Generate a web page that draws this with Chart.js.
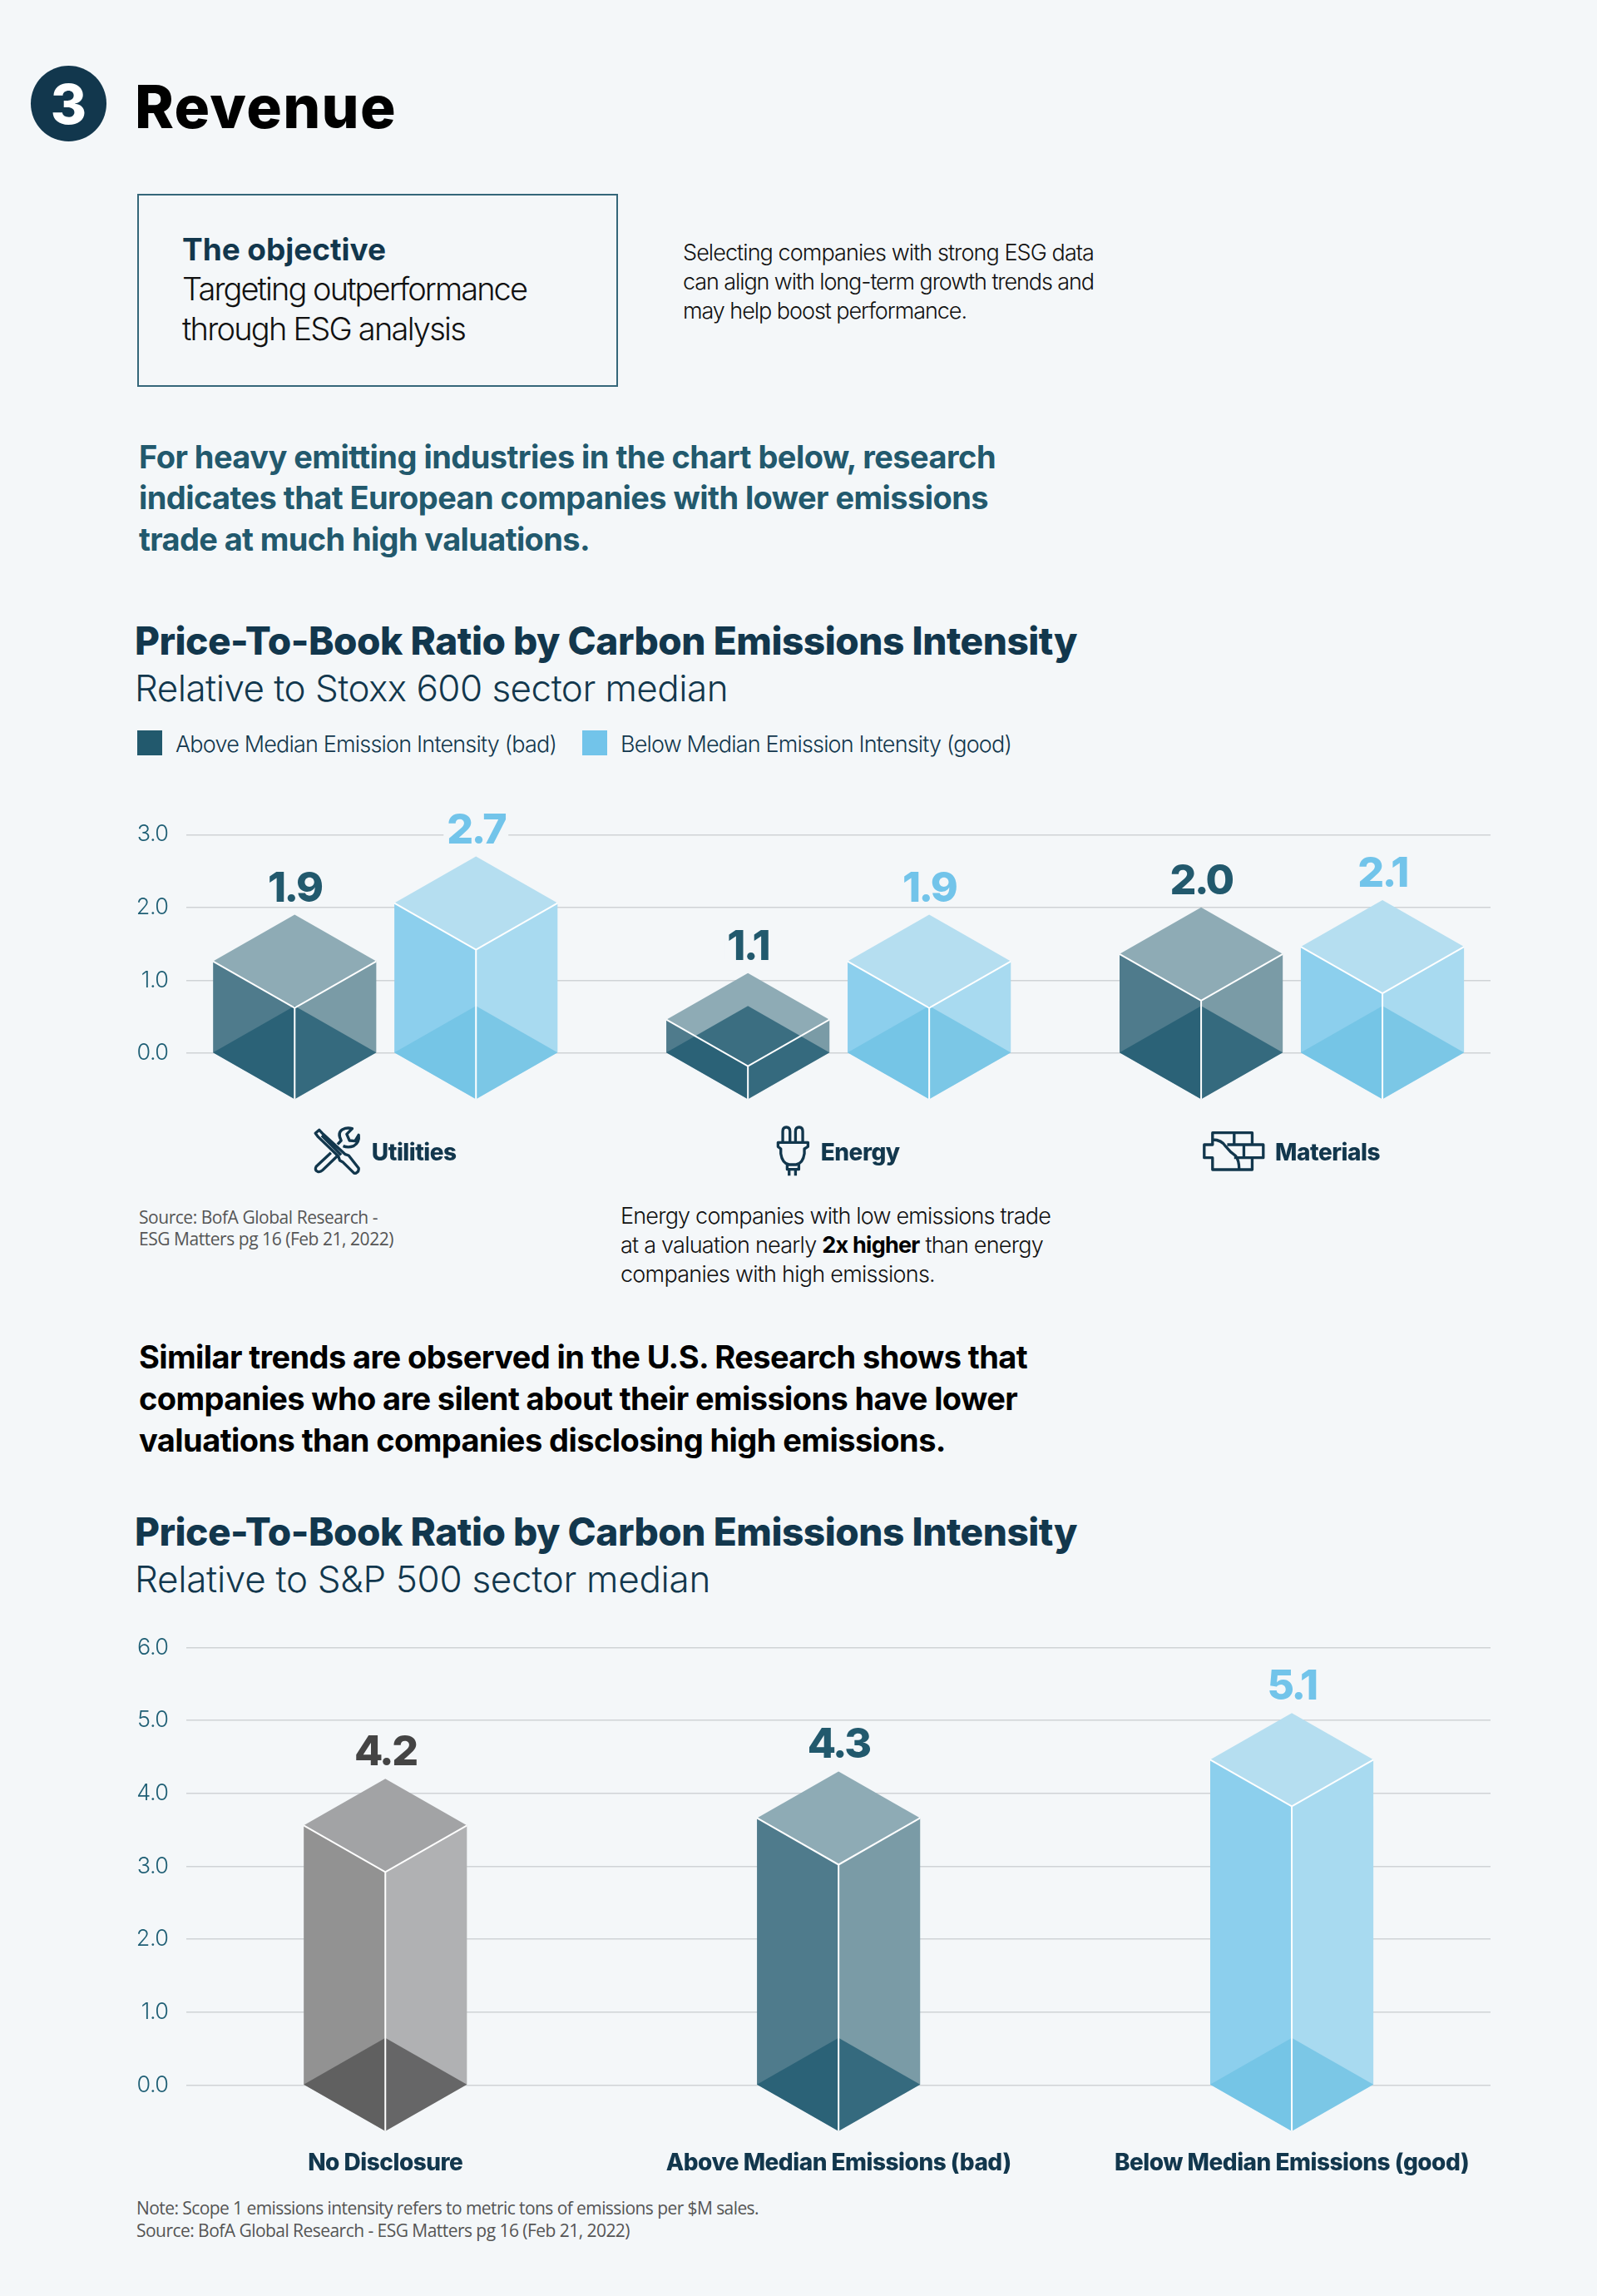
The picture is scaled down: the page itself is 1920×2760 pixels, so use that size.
<!DOCTYPE html>
<html>
<head>
<meta charset="utf-8">
<title>Revenue</title>
<script src="https://cdn.jsdelivr.net/npm/chart.js@4"></script>
<style>
  html, body { margin: 0; background: #f4f7f9; }
  #page { position: relative; width: 1920px; height: 2760px; overflow: hidden; font-family: Inter, sans-serif; }
  #page canvas { position: absolute; left: 0; }
  .t { position: absolute; white-space: nowrap; line-height: 1; }
  .t b { font-weight: 700; color: #000; }
  .circle { position: absolute; left: 37px; top: 79px; width: 91px; height: 91px; border-radius: 50%; background: #12374d; color: #fff;
    display: flex; align-items: center; justify-content: center; font-weight: 800; font-size: 66px; }
  .box { position: absolute; left: 165px; top: 233px; width: 574px; height: 228px; border: 2px solid #35677a; }
  .sq { position: absolute; width: 30px; height: 30px; }
</style>
</head>
<body>
<div id="page">
  <div class="circle">3</div>
  <div class="box"></div>
  <div class="sq" style="left:165px;top:878px;background:#22596d"></div>
  <div class="sq" style="left:700px;top:878px;background:#72c4ea"></div>
  <canvas id="chartEurope" width="1920" height="466" style="top:960px"></canvas>
  <canvas id="chartUS" width="1920" height="697" style="top:1940px"></canvas>
</div>
<script>
// chart 1: Stoxx 600
const euCategories = ["Utilities", "Energy", "Materials"];
const euAbove = [1.9, 1.1, 2.0];
const euBelow = [2.7, 1.9, 2.1];
const euSeriesNames = ["Above Median Emission Intensity (bad)", "Below Median Emission Intensity (good)"];

// chart 2: S&P 500
const usCategories = ["No Disclosure", "Above Median Emissions (bad)", "Below Median Emissions (good)"];
const usValues = [4.2, 4.3, 5.1];

const navy = "#12374d";
const teal = "#22596d";
const pageBg = "#f4f7f9";

const dark = { left: "#4f7b8c", right: "#7a9ba6", top: "#8eabb5", shade: "rgba(31,90,112,0.75)", text: teal };
const light = { left: "#8ccfed", right: "#a8daf0", top: "#b5def0", shade: "rgba(111,194,228,0.8)", text: "#72c4ea" };
const gray = { left: "#929292", right: "#b0b1b3", top: "#a2a3a5", shade: "rgba(84,84,84,0.8)", text: "#444444" };

// the 3 category icons, traced at 3x
const euIcons = [
  { width: 54, gap: 15, top: 79, path: new Path2D("M52 52 L66 40 L80 55 L160 128 L172 132 L208 178 Q210 190 198 196 L192 196 L150 155 L140 150 L135 135 L62 65 Z M75 60 L145 130 M108 122 L55 172 Q48 185 60 190 Q70 193 78 185 L130 135 M132 92 L145 78 Q130 50 150 38 Q165 30 185 35 L165 55 L175 78 L195 80 L208 58 Q212 85 190 98 Q170 105 152 98"), left: 48 },
  { width: 37, gap: 15, top: 79, path: new Path2D("M62 80 L62 45 Q62 30 75 30 Q88 30 88 45 L88 80 M108 80 L108 45 Q108 30 121 30 Q134 30 134 45 L134 80 M45 85 L153 85 L153 100 L140 108 L140 125 Q135 160 110 165 L85 165 Q60 160 55 125 L55 108 L45 100 Z M78 165 L78 182 L120 182 L120 165 M85 182 L85 205 M108 182 L108 205"), left: 43 },
  { width: 72, gap: 14, top: 84, path: new Path2D("M52 35 L195 35 L195 78 L235 78 L235 125 L195 125 L195 168 L52 168 L52 125 L22 125 L22 78 L52 78 Z M130 35 L130 78 M52 60 Q85 60 100 85 Q115 105 135 118 Q148 135 148 168 M105 78 L235 78 M165 78 L165 125 M130 125 L235 125"), left: 20 }
];

const plotLeft = 223.5;
const plotRight = 1792;
const xMin = 0.56;
const xMax = 3.4385;
const pxPerCategory = (plotRight - plotLeft) / (xMax - xMin);

function addText(html, x, baseline, size, width, weight, color, family) {
  const el = document.createElement("div");
  el.className = "t";
  el.innerHTML = html;
  el.style.left = x + "px";
  el.style.top = baseline - size * 0.86 + "px";
  el.style.fontSize = size + "px";
  el.style.fontWeight = weight;
  el.style.color = color;
  if (family) el.style.fontFamily = family;
  document.getElementById("page").appendChild(el);
  // squeeze the line to the width it has in the layout
  const extra = width - el.getBoundingClientRect().width;
  el.style.letterSpacing = extra / el.textContent.length + "px";
}

addText("Revenue", 162, 154, 71, 315, 800, "#000");

addText("The objective", 219, 313, 37, 245, 750, navy);
addText("Targeting outperformance", 219, 361, 38, 414, 300, "#111");
addText("through ESG analysis", 219, 409, 38, 340, 300, "#111");

addText("Selecting companies with strong ESG data", 821, 313, 27, 494, 300, "#111");
addText("can align with long-term growth trends and", 821, 348, 27, 494, 300, "#111");
addText("may help boost performance.", 821, 383, 27, 341, 300, "#111");

addText("For heavy emitting industries in the chart below, research", 167, 563, 38, 1030, 750, teal);
addText("indicates that European companies with lower emissions", 167, 612, 38, 1021, 750, teal);
addText("trade at much high valuations.", 167, 662, 38, 542, 750, teal);

addText("Price-To-Book Ratio by Carbon Emissions Intensity", 162, 787, 46, 1133, 800, navy);
addText("Relative to Stoxx 600 sector median", 162, 843, 44, 713, 300, navy);
addText(euSeriesNames[0], 211, 904, 27, 458, 300, navy);
addText(euSeriesNames[1], 746, 904, 27, 470, 300, navy);

addText("Source: BofA Global Research -", 167, 1471, 21, 287, 400, "#555", "'Open Sans'");
addText("ESG Matters pg 16 (Feb 21, 2022)", 167, 1497, 21, 306, 400, "#555", "'Open Sans'");

addText("Energy companies with low emissions trade", 746, 1471, 27, 517, 300, "#111");
addText("at a valuation nearly <b>2x higher</b> than energy", 746, 1506, 27, 508, 300, "#111");
addText("companies with high emissions.", 746, 1541, 27, 378, 300, "#111");

addText("Similar trends are observed in the U.S. Research shows that", 167, 1645, 38, 1068, 750, "#000");
addText("companies who are silent about their emissions have lower", 167, 1695, 38, 1056, 750, "#000");
addText("valuations than companies disclosing high emissions.", 167, 1745, 38, 970, 750, "#000");

addText("Price-To-Book Ratio by Carbon Emissions Intensity", 162, 1858, 46, 1133, 800, navy);
addText("Relative to S&amp;P 500 sector median", 162, 1914, 44, 692, 300, navy);

addText("Note: Scope 1 emissions intensity refers to metric tons of emissions per $M sales.", 164, 2662, 21, 748, 400, "#555", "'Open Sans'");
addText("Source: BofA Global Research - ESG Matters pg 16 (Feb 21, 2022)", 164, 2689, 21, 593, 400, "#555", "'Open Sans'");

function polygon(ctx, points, fill) {
  ctx.beginPath();
  points.forEach(([x, y], i) => (i ? ctx.lineTo(x, y) : ctx.moveTo(x, y)));
  ctx.closePath();
  ctx.fillStyle = fill;
  ctx.fill();
}

function drawPrism(ctx, bar, rise, colors) {
  const cx = bar.x;
  const hw = bar.width / 2;
  const top = bar.y;
  const base = bar.base;
  const corner = top + rise;
  const front = top + rise * 2;
  const low = base + rise;

  polygon(ctx, [[cx - hw, corner], [cx, front], [cx, low], [cx - hw, base]], colors.left);
  polygon(ctx, [[cx + hw, corner], [cx, front], [cx, low], [cx + hw, base]], colors.right);
  polygon(ctx, [[cx, top], [cx + hw, corner], [cx, front], [cx - hw, corner]], colors.top);
  polygon(ctx, [[cx - hw, base], [cx, base - rise], [cx + hw, base], [cx, low]], colors.shade);

  ctx.strokeStyle = "#ffffff";
  ctx.lineWidth = 2;
  ctx.beginPath();
  ctx.moveTo(cx - hw, corner);
  ctx.lineTo(cx, front);
  ctx.lineTo(cx + hw, corner);
  ctx.moveTo(cx, front);
  ctx.lineTo(cx, low);
  ctx.stroke();
}

function drawValue(ctx, bar, value, color) {
  const text = value.toFixed(1);
  ctx.font = "800 50px Inter";
  ctx.letterSpacing = "-2.5px";
  ctx.textAlign = "center";
  ctx.textBaseline = "alphabetic";
  const w = ctx.measureText(text).width;
  ctx.fillStyle = pageBg;
  ctx.fillRect(bar.x - w / 2 - 4, bar.y - 52, w + 8, 36);
  ctx.fillStyle = color;
  ctx.fillText(text, bar.x, bar.y - 16);
}

// bars are left transparent by the library, the prisms go on the same elements
const prismPlugin = {
  id: "prism",
  beforeDraw(chart) {
    chart.ctx.letterSpacing = "-0.5px";
  },
  afterDatasetsDraw(chart, args, opts) {
    const ctx = chart.ctx;
    chart.data.datasets.forEach((ds, d) => {
      chart.getDatasetMeta(d).data.forEach((bar, i) => {
        const colors = ds.prism[i];
        ctx.save();
        drawPrism(ctx, bar, opts.rise, colors);
        drawValue(ctx, bar, ds.data[i].y, colors.text);
        ctx.restore();
      });
    });
  },
  afterDraw(chart, args, opts) {
    if (!opts.icons) return;
    const ctx = chart.ctx;
    const x = chart.scales.x;
    ctx.save();
    ctx.font = x.options.ticks.font.weight + " " + x.options.ticks.font.size + "px Inter";
    opts.icons.forEach((icon, i) => {
      const textW = ctx.measureText(x.ticks[i].label).width;
      const left = x.getPixelForTick(i) - textW / 2 - icon.gap - icon.width;
      ctx.save();
      ctx.translate(left, chart.chartArea.bottom + icon.top);
      ctx.scale(1 / 3, 1 / 3);
      ctx.translate(-icon.left, 0);
      ctx.strokeStyle = navy;
      ctx.lineWidth = 10;
      ctx.lineJoin = "round";
      ctx.stroke(icon.path);
      ctx.restore();
    });
    ctx.restore();
  }
};

function toPoints(values) {
  return values.map((v, i) => ({ x: i + 1, y: v }));
}

function makeChart(id, datasets, cfg) {
  return new Chart(document.getElementById(id), {
    type: "bar",
    data: { datasets },
    plugins: [prismPlugin],
    options: {
      responsive: false,
      animation: false,
      devicePixelRatio: 1,
      categoryPercentage: cfg.categoryPercentage,
      barPercentage: cfg.barPercentage,
      layout: { padding: { top: cfg.paddingTop, right: 1920 - plotRight, left: 0, bottom: 0 } },
      plugins: {
        legend: { display: false },
        tooltip: { enabled: false },
        prism: { rise: 56, icons: cfg.icons }
      },
      scales: {
        x: {
          type: "linear",
          offset: false,
          min: xMin,
          max: xMax,
          grid: { display: false, offset: false },
          border: { display: false },
          afterBuildTicks: (s) => {
            // tick sits on the middle of icon + label
            s.ticks = cfg.categories.map((c, i) => ({
              value: i + 1 + (cfg.icons ? (cfg.icons[i].width + cfg.icons[i].gap) / 2 / pxPerCategory : 0)
            }));
          },
          afterFit: (s) => { s.height = cfg.axisHeight; },
          ticks: {
            autoSkip: false,
            maxRotation: 0,
            padding: cfg.labelPadding,
            color: navy,
            font: { family: "Inter", weight: "800", size: cfg.labelSize },
            callback: (v, i) => cfg.categories[i]
          }
        },
        y: {
          min: 0,
          max: cfg.yMax,
          afterFit: (s) => { s.width = plotLeft; },
          grid: { color: "#cfd3d6", lineWidth: 1.5, drawTicks: false },
          border: { display: false },
          ticks: {
            stepSize: 1,
            padding: 21,
            color: "#1f5f75",
            font: { family: "Inter", weight: "300", size: 27 },
            callback: (v) => v.toFixed(1)
          }
        }
      }
    }
  });
}

makeChart("chartEurope", [
  { label: euSeriesNames[0], data: toPoints(euAbove), backgroundColor: "rgba(0,0,0,0)", prism: [dark, dark, dark] },
  { label: euSeriesNames[1], data: toPoints(euBelow), backgroundColor: "rgba(0,0,0,0)", prism: [light, light, light] }
], {
  categories: euCategories,
  icons: euIcons,
  // the bar ruler also counts the shifted ticks, so its step is about 536px here
  categoryPercentage: 0.8127,
  barPercentage: 0.9,
  paddingTop: 43.3,
  axisHeight: 160,
  labelPadding: 96,
  labelSize: 28,
  yMax: 3
});

makeChart("chartUS", [
  { label: "Price-to-book", data: toPoints(usValues), backgroundColor: "rgba(0,0,0,0)", prism: [gray, dark, light] }
], {
  categories: usCategories,
  categoryPercentage: 1,
  barPercentage: 0.36,
  paddingTop: 40.4,
  axisHeight: 130.4,
  labelPadding: 69,
  labelSize: 28,
  yMax: 6
});
</script>
</body>
</html>
